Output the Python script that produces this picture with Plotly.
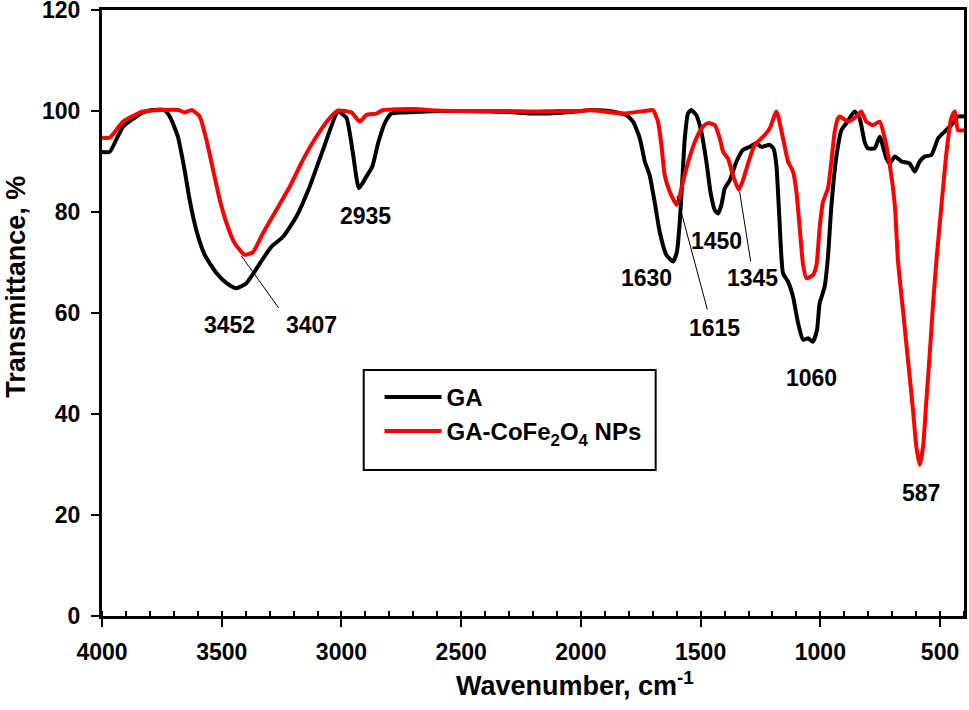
import plotly.graph_objects as go

# ---- data ----
ga_wn = [4000, 3968, 3912, 3829, 3790, 3740, 3717, 3683, 3655, 3634, 3606, 3571, 3522, 3480, 3439,
         3397, 3341, 3293, 3244, 3188, 3133, 3077, 3014, 2979, 2952, 2927, 2896, 2871, 2847, 2819,
         2791, 2700, 2600, 2500, 2400, 2300, 2200, 2100, 2000, 1963, 1880, 1810, 1782, 1754, 1733,
         1713, 1692, 1671, 1643, 1615, 1599, 1587, 1576, 1566, 1553, 1539, 1518, 1497, 1476, 1459,
         1441, 1427, 1413, 1399, 1378, 1350, 1323, 1295, 1267, 1246, 1211, 1195, 1183, 1170, 1156,
         1135, 1114, 1093, 1072, 1051, 1031, 1014, 1003, 982, 968, 954, 933, 912, 891, 857,
         836, 815, 801, 773, 752, 724, 710, 689, 661, 627, 606, 585, 564, 536, 508,
         481, 453, 425, 400]
ga_t = [91.9, 91.9, 96.9, 99.7, 100.2, 100.2, 98.9, 94.9, 88.3, 82.4, 76.4, 71.5, 67.9, 65.9, 64.9,
        65.9, 69.8, 73.1, 75.1, 79.1, 85.0, 92.3, 99.9, 98.6, 91.6, 84.7, 87.0, 89.0, 93.6, 97.6,
        99.5, 99.8, 100.0, 100.0, 99.9, 99.8, 99.5, 99.6, 100.0, 100.2, 100.0, 99.2, 97.9, 94.6, 90.0,
        87.3, 82.0, 76.1, 71.5, 70.2, 72.1, 78.1, 86.7, 94.6, 99.5, 100.2, 99.2, 95.9, 90.0, 84.0,
        80.4, 79.7, 81.4, 84.7, 86.3, 90.0, 92.3, 92.9, 93.6, 92.9, 93.3, 92.5, 89.0, 77.8, 67.9,
        66.2, 63.2, 58.0, 54.7, 55.0, 54.3, 56.6, 61.9, 65.2, 71.2, 81.1, 91.0, 96.2, 97.6, 99.9,
        98.6, 93.9, 92.6, 92.6, 94.9, 90.6, 89.6, 91.0, 90.0, 89.6, 88.0, 90.0, 91.0, 91.3, 94.6,
        95.9, 97.2, 98.9, 98.9]

np_wn = [4000, 3968, 3912, 3829, 3750, 3680, 3655, 3625, 3592, 3564, 3536, 3508, 3480, 3446, 3404,
         3369, 3328, 3272, 3216, 3161, 3105, 3049, 3014, 2958, 2924, 2896, 2854, 2826, 2700, 2600,
         2500, 2400, 2300, 2200, 2100, 2000, 1963, 1824, 1720, 1699, 1678, 1664, 1650, 1629, 1599,
         1580, 1559, 1539, 1518, 1490, 1469, 1441, 1420, 1406, 1386, 1365, 1341, 1323, 1302, 1274,
         1239, 1211, 1183, 1156, 1135, 1114, 1100, 1086, 1072, 1058, 1031, 1016, 1003, 989, 968,
         954, 940, 926, 919, 884, 849, 829, 808, 780, 752, 731, 710, 689, 676, 655,
         634, 613, 599, 585, 571, 557, 543, 529, 515, 494, 473, 453, 439, 425, 400]
np_t = [94.7, 94.7, 97.9, 99.9, 100.2, 100.2, 99.7, 100.2, 98.9, 94.3, 88.3, 82.4, 77.8, 73.8, 71.5,
        72.1, 75.8, 80.4, 85.0, 90.3, 94.9, 98.6, 100.1, 99.7, 97.9, 99.2, 99.5, 100.2, 100.4, 100.1,
        100.0, 100.0, 100.0, 99.9, 100.0, 100.0, 100.2, 99.5, 100.1, 100.2, 97.9, 93.3, 87.3, 84.0, 81.4,
        84.7, 88.7, 91.9, 94.6, 96.9, 97.6, 97.2, 94.6, 91.9, 90.6, 87.3, 84.4, 86.3, 89.6, 93.3,
        94.9, 96.6, 99.9, 94.6, 90.0, 88.0, 84.0, 76.8, 69.5, 66.9, 67.5, 69.5, 76.8, 82.0, 84.7,
        90.0, 95.9, 98.6, 98.9, 97.9, 98.9, 99.9, 97.9, 97.2, 97.9, 94.6, 89.3, 81.4, 70.5, 60.6,
        50.7, 40.8, 33.5, 29.9, 33.5, 42.8, 52.0, 61.9, 70.5, 81.4, 91.9, 98.6, 99.9, 96.2, 96.2]

series_names = ["GA", "GA-CoFe<sub>2</sub>O<sub>4</sub> NPs"]
series_colors = ["#000000", "#ff0000"]

peak_labels = ["3452", "3407", "2935", "1630", "1450", "1345", "1615", "1060", "587"]
peak_label_x = [3467, 3126, 2899, 1726, 1434, 1284, 1441, 1035, 578]
peak_label_y = [57.6, 57.6, 79.3, 66.9, 74.3, 66.9, 57.0, 47.1, 24.3]

# leader lines (from peak to label)
leader_x0 = [3418, 1599, 1337]
leader_y0 = [71.3, 83.2, 84.0]
leader_x1 = [3262, 1472, 1291]
leader_y1 = [61.0, 60.7, 70.2]

x_ticks = [4000, 3500, 3000, 2500, 2000, 1500, 1000, 500]
y_ticks = [0, 20, 40, 60, 80, 100, 120]

FONT = "Liberation Sans, Arial, sans-serif"
TICKFONT = dict(family=FONT, size=23, color="black", weight="bold")

fig = go.Figure()
for wn, t, name, col in [(ga_wn, ga_t, series_names[0], series_colors[0]),
                         (np_wn, np_t, series_names[1], series_colors[1])]:
    fig.add_trace(go.Scatter(x=wn, y=t, mode="lines", name=name,
                             line=dict(color=col, width=4, shape="spline", smoothing=0.5)))

for txt, x, y in zip(peak_labels, peak_label_x, peak_label_y):
    fig.add_annotation(x=x, y=y, text=txt, showarrow=False, xref="x", yref="y",
                       font=dict(family=FONT, size=23, color="black", weight="bold"))

for x0, y0, x1, y1 in zip(leader_x0, leader_y0, leader_x1, leader_y1):
    fig.add_shape(type="line", xref="x", yref="y", x0=x0, y0=y0, x1=x1, y1=y1,
                  line=dict(color="black", width=1))

# legend frame
fig.add_shape(type="rect", xref="paper", yref="paper", x0=0.3036, y0=0.2409, x1=0.6423, y1=0.406,
              line=dict(color="black", width=2), fillcolor="white", layer="below")

# axis titles
fig.add_annotation(xref="paper", yref="paper", x=0.549, y=-0.1125, text="Wavenumber, cm<sup>-1</sup>",
                   showarrow=False, xanchor="center", yanchor="middle",
                   font=dict(family=FONT, size=27, color="black", weight="bold"))
fig.add_annotation(xref="paper", yref="paper", x=-0.1, y=0.543, text="Transmittance, %",
                   showarrow=False, xanchor="center", yanchor="middle", textangle=-90,
                   font=dict(family=FONT, size=27, color="black", weight="bold"))

fig.update_layout(
    width=969, height=710,
    margin=dict(l=102, r=5, t=10, b=94, autoexpand=False),
    paper_bgcolor="white", plot_bgcolor="white",
    font=dict(family=FONT, size=22, color="black"),
    showlegend=True,
    legend=dict(x=0.322, y=0.398, xanchor="left", yanchor="top",
                bgcolor="rgba(0,0,0,0)", borderwidth=0, itemwidth=57,
                font=dict(family=FONT, size=24, color="black", weight="bold")),
    xaxis=dict(range=[4000, 400], tickvals=x_ticks, ticks="outside", ticklen=8, tickwidth=2,
               tickcolor="black", showline=True, linecolor="black", linewidth=3, mirror=True,
               showgrid=False, zeroline=False, ticklabelstandoff=5, ticklabeloverflow="allow",
               automargin=False, tickfont=TICKFONT,
               minor=dict(dtick=100, tick0=0, ticks="inside", ticklen=5, tickwidth=1.5,
                          tickcolor="black", showgrid=False)),
    yaxis=dict(range=[0, 120], tickvals=y_ticks, ticks="outside", ticklen=8, tickwidth=2,
               tickcolor="black", showline=True, linecolor="black", linewidth=3, mirror=True,
               showgrid=False, zeroline=False, ticklabelstandoff=6, ticklabeloverflow="allow",
               automargin=False, tickfont=TICKFONT),
)

fig.write_html("out.html", config={"displayModeBar": False})
with open("out.html", "r", encoding="utf-8") as f:
    html = f.read()
html = html.replace("<head>", "<head><style>body{margin:0;padding:0;overflow:hidden}</style>", 1)
with open("out.html", "w", encoding="utf-8") as f:
    f.write(html)
